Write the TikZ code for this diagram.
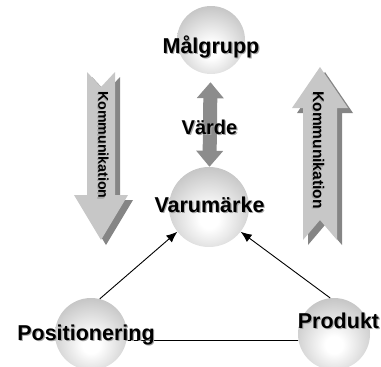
\documentclass[tikz,border=0pt]{standalone}
\usepackage{fontspec}
\setmainfont{Liberation Sans}
\usetikzlibrary{arrows.meta}

\pgfdeclareradialshading{sphereshade}{\pgfpoint{0bp}{-8bp}}{%
  color(0bp)=(white); color(6bp)=(white); color(30bp)=(black!22);
  color(50bp)=(black!33); color(100bp)=(black!33)}
\newcommand\shtxt[1]{\rlap{\kern1.1pt\raisebox{-1.1pt}{\color{black!35}#1}}#1}

\begin{document}
\begin{tikzpicture}[x=1pt, y=-1pt, >={Latex[length=11pt,width=9pt]},
        sphere/.style = {circle, inner sep=0pt, shading=sphereshade},
        big/.style = {font=\fontsize{21.5}{24}\selectfont\bfseries, anchor=base},
        komm/.style = {font=\bfseries, rotate=-90},
        bigarrow/.style = {fill=black!22},
        bigshadow/.style = {fill=black!48},
        conn/.style = {line width=0.9pt},
        ]
        \useasboundingbox (0,0) rectangle (381,367);

        % spheres
        \node [sphere, minimum size=68pt] (malgrupp) at (211,40) {};
        \node [sphere, minimum size=80pt] (varumarke) at (209,207) {};
        \node [sphere, minimum size=72pt] (positionering) at (91,334) {};
        \node [sphere, minimum size=72pt] (produkt) at (334,334) {};

        % kommunikation arrows
        \fill [bigshadow, shift={(5,5)}] (87,72) -- (101,87) -- (115,72) -- (115,195) -- (128,195)
            -- (101,240) -- (74,195) -- (87,195) -- cycle;
        \fill [bigarrow] (87,72) -- (101,87) -- (115,72) -- (115,195) -- (128,195)
            -- (101,240) -- (74,195) -- (87,195) -- cycle;
        \fill [bigshadow, shift={(5,5)}] (320,67) -- (348,108) -- (337,108) -- (337,240) -- (320,220)
            -- (303,240) -- (303,108) -- (292,108) -- cycle;
        \fill [bigarrow] (320,67) -- (348,108) -- (337,108) -- (337,240) -- (320,220)
            -- (303,240) -- (303,108) -- (292,108) -- cycle;
        \node [komm, font=\fontsize{14.2}{16}\selectfont\bfseries] (komm-l) at (103,145) {\shtxt{Kommunikation}};
        \node [komm, font=\fontsize{15.5}{17}\selectfont\bfseries] (komm-r) at (318,150) {\shtxt{Kommunikation}};

        % connectors
        \draw [line width=14pt, black!45, {Triangle[length=16pt,width=26pt]}-{Triangle[length=16pt,width=26pt]},
            shorten <=8pt] (malgrupp) -- (varumarke);
        \draw [conn, ->] (positionering.76) -- (varumarke.218);
        \draw [conn, ->] (produkt.96) -- (varumarke.-38);
        \draw [conn] (positionering.-11) -- (produkt.191);

        % labels
        \node [big] (malgrupp-txt) at (211,53) {\shtxt{Målgrupp}};
        \node [big, font=\fontsize{20}{22}\selectfont\bfseries] (varde-txt) at (209.5,134) {\shtxt{Värde}};
        \node [big] (varumarke-txt) at (209.5,212) {\shtxt{Varumärke}};
        \node [big] (positionering-txt) at (86,340) {\shtxt{Positionering}};
        \node [big] (produkt-txt) at (338.5,328) {\shtxt{Produkt}};
    \end{tikzpicture}
\end{document}
